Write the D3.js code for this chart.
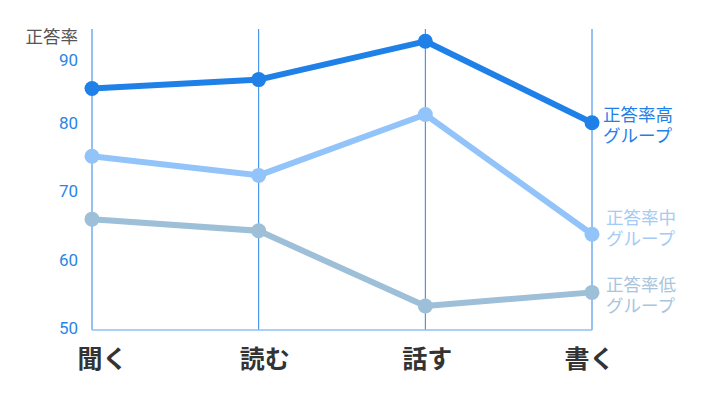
<!DOCTYPE html>
<html><head><meta charset="utf-8">
<script src="https://cdn.jsdelivr.net/npm/d3@7"></script>
<style>
html,body{margin:0;padding:0;background:#fff;}
svg{display:block;font-family:"Noto Sans CJK JP","Noto Sans",sans-serif;}
</style></head>
<body><svg id="c" width="702" height="400"></svg>
<script>
const categories = ["聞く", "読む", "話す", "書く"];
const seriesNames = ["正答率低", "正答率中", "正答率高"];
const highValues = [85.3, 86.6, 92.2, 80.3];
const midValues = [75.4, 72.6, 81.5, 64.0];
const lowValues = [66.2, 64.5, 53.5, 55.5];
const yTicks = [50, 60, 70, 80, 90];
const yTitle = "正答率";
const groupSuffix = "グループ";

const series = [
  {name: seriesNames[0], values: lowValues, color: "#9dbfd8", text: "#a9c5dd", dy: [-7, 14], dx: 14},
  {name: seriesNames[1], values: midValues, color: "#92c4fa", text: "#a3cbf6", dy: [-16, 5], dx: 14},
  {name: seriesNames[2], values: highValues, color: "#1f80e8", text: "#1f80e8", dy: [-8, 13], dx: 11}
];

const W = 702, H = 400;
const m = {top: 29, right: 110, bottom: 70, left: 92};
const svg = d3.select("#c");

const x = d3.scalePoint().domain(categories).range([m.left, W - m.right]);
const xLabel = d3.scalePoint().domain(categories).range([102.5, 589.5]);
const y = d3.scaleLinear().domain([50, 94]).range([H - m.bottom, m.top]);

// vertical category lines
svg.append("g").selectAll("line").data(categories).join("line")
  .attr("x1", d => x(d)).attr("x2", d => x(d))
  .attr("y1", m.top).attr("y2", H - m.bottom)
  .attr("stroke", "#2a82e6").attr("stroke-width", 1);

// bottom axis line
svg.append("line")
  .attr("x1", m.left).attr("x2", W - m.right)
  .attr("y1", y(50)).attr("y2", y(50))
  .attr("stroke", "#8fbff3").attr("stroke-width", 1.5);

// y axis labels
const yAxis = d3.axisLeft(y).tickValues(yTicks).tickSize(0).tickPadding(14);
const gy = svg.append("g").attr("transform", `translate(${m.left},0)`).call(yAxis);
gy.select(".domain").remove();
gy.selectAll("text").attr("fill", "#2a85e8").style("font-size", "17px")
  .attr("dy", (d) => d === 90 ? "0.55em" : "0.22em")
  .style("font-family", "Roboto, 'Noto Sans', sans-serif");

svg.append("text").attr("x", 78).attr("y", 37).attr("dy", "0.35em")
  .attr("text-anchor", "end").attr("fill", "#555").style("font-size", "17.5px")
  .text(yTitle);

// x labels
svg.append("g").selectAll("text").data(categories).join("text")
  .attr("x", d => xLabel(d)).attr("y", 368)
  .attr("text-anchor", "middle").attr("fill", "#333")
  .style("font-size", "25px").style("font-weight", "bold")
  .text(d => d);

const line = d3.line().x((d, i) => x(categories[i])).y(d => y(d));

series.forEach(s => {
  const g = svg.append("g");
  g.append("path").datum(s.values).attr("d", line)
    .attr("fill", "none").attr("stroke", s.color).attr("stroke-width", 6)
    .attr("stroke-linejoin", "round");
  g.selectAll("circle").data(s.values).join("circle")
    .attr("cx", (d, i) => x(categories[i])).attr("cy", d => y(d)).attr("r", 7.5)
    .attr("fill", s.color);
  const last = s.values[s.values.length - 1];
  const lx = x(categories[categories.length - 1]) + s.dx;
  [s.name, groupSuffix].forEach((txt, k) => {
    g.append("text").attr("fill", s.text).style("font-size", "17.5px")
      .attr("x", lx).attr("y", y(last) + s.dy[k] + 6).text(txt);
  });
});
</script></body></html>
